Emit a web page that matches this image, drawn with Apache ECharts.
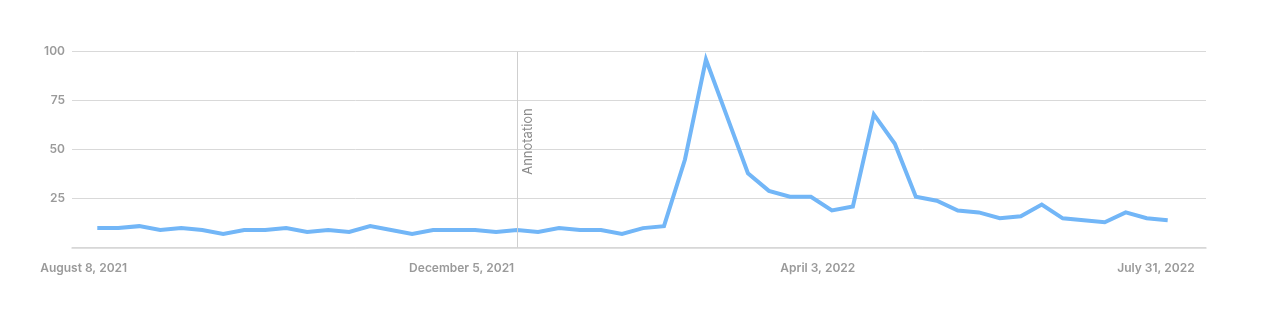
<!DOCTYPE html>
<html>
<head>
<meta charset="utf-8">
<script src="https://cdn.jsdelivr.net/npm/echarts@6/dist/echarts.min.js"></script>
<style>
  html, body { margin: 0; padding: 0; background: #ffffff; }
  #chart { width: 1262px; height: 319px; }
</style>
</head>
<body>
<div id="chart"></div>
<script>
// ---- data ----
const weeks = [
  '2021-08-08','2021-08-15','2021-08-22','2021-08-29','2021-09-05','2021-09-12','2021-09-19','2021-09-26',
  '2021-10-03','2021-10-10','2021-10-17','2021-10-24','2021-10-31','2021-11-07','2021-11-14','2021-11-21',
  '2021-11-28','2021-12-05','2021-12-12','2021-12-19','2021-12-26','2022-01-02','2022-01-09','2022-01-16',
  '2022-01-23','2022-01-30','2022-02-06','2022-02-13','2022-02-20','2022-02-27','2022-03-06','2022-03-13',
  '2022-03-20','2022-03-27','2022-04-03','2022-04-10','2022-04-17','2022-04-24','2022-05-01','2022-05-08',
  '2022-05-15','2022-05-22','2022-05-29','2022-06-05','2022-06-12','2022-06-19','2022-06-26','2022-07-03',
  '2022-07-10','2022-07-17','2022-07-24','2022-07-31'
];
const interest = [
  10, 10, 11, 9, 10, 9, 7, 9, 9, 10, 8, 9, 8, 11, 9, 7,
  9, 9, 9, 8, 9, 8, 10, 9, 9, 7, 10, 11, 45, 96, 67, 38,
  29, 26, 26, 19, 21, 68, 53, 26, 24, 19, 18, 15, 16, 22, 15, 14,
  13, 18, 15, 14
];
const xTickLabels = ['August 8, 2021', 'December 5, 2021', 'April 3, 2022', 'July 31, 2022'];
const yTicks = [0, 25, 50, 75, 100];
const annotationWeek = '2021-12-26';
const annotationText = 'Annotation';

// ---- layout (positions in week-index units along the x scale) ----
const xLabelPositions = [-0.65, 17.36, 34.33, 50.44];
const xMin = -1.205, xMax = weeks.length - 1 + 1.825;

const chart = echarts.init(document.getElementById('chart'), null, { renderer: 'canvas' });
const fontFamily = 'Inter, "Noto Sans", sans-serif';

chart.setOption({
  animation: false,
  backgroundColor: '#ffffff',
  grid: { left: 72, right: 56, top: 51.7, bottom: 71.3, containLabel: false },
  xAxis: {
    type: 'value',
    min: xMin,
    max: xMax,
    axisLine: { show: true, lineStyle: { color: '#d6d6d6', width: 1.5 } },
    axisTick: { show: false },
    splitLine: { show: false },
    axisLabel: {
      customValues: xLabelPositions,
      formatter: function (v) {
        let best = 0;
        for (let i = 1; i < xLabelPositions.length; i++) {
          if (Math.abs(xLabelPositions[i] - v) < Math.abs(xLabelPositions[best] - v)) best = i;
        }
        return xTickLabels[best];
      },
      color: '#9a9a9a',
      fontFamily: fontFamily,
      fontWeight: 600,
      fontSize: 12,
      margin: 15,
      hideOverlap: false
    }
  },
  yAxis: {
    type: 'value',
    min: yTicks[0],
    max: yTicks[yTicks.length - 1],
    interval: yTicks[1] - yTicks[0],
    axisLine: { show: false },
    axisTick: { show: false },
    splitLine: { show: true, lineStyle: { color: '#d9d9d9', width: 1 } },
    axisLabel: {
      formatter: function (v) { return v === 0 ? '' : String(v); },
      color: '#9a9a9a',
      fontFamily: fontFamily,
      fontWeight: 600,
      fontSize: 12,
      margin: 7
    }
  },
  series: [{
    type: 'line',
    data: interest.map((v, i) => [i, v]),
    showSymbol: false,
    symbol: 'none',
    lineStyle: { color: '#72b6f7', width: 4, join: 'miter' },
    itemStyle: { color: '#72b6f7' },
    markLine: {
      silent: true,
      symbol: ['none', 'none'],
      lineStyle: { color: '#cfcfcf', width: 1, type: 'solid' },
      label: {
        show: true,
        formatter: annotationText,
        position: 'insideEndBottom',
        color: '#8a8a8a',
        fontFamily: fontFamily,
        fontSize: 13,
        distance: [56.5, 5]
      },
      data: [{ xAxis: weeks.indexOf(annotationWeek) }]
    }
  }]
});
</script>
</body>
</html>
